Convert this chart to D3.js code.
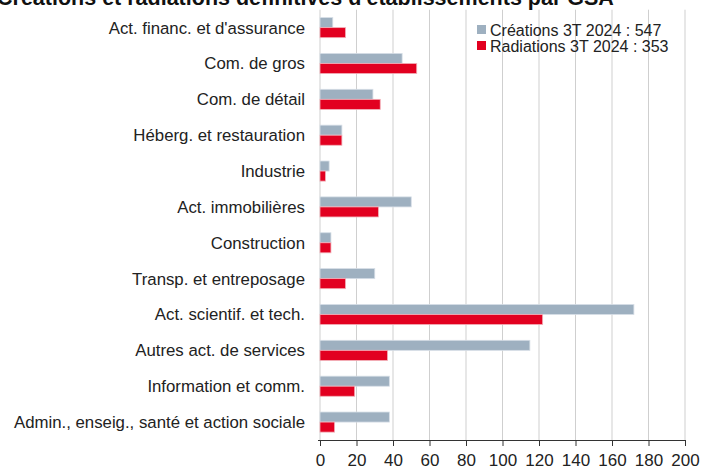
<!DOCTYPE html>
<html><head><meta charset="utf-8">
<script src="https://cdn.jsdelivr.net/npm/d3@7"></script>
<style>body{margin:0;background:#fff}svg{display:block}</style>
</head><body>
<script>
const categories = ["Act. financ. et d'assurance","Com. de gros","Com. de détail","Héberg. et restauration","Industrie","Act. immobilières","Construction","Transp. et entreposage","Act. scientif. et tech.","Autres act. de services","Information et comm.","Admin., enseig., santé et action sociale"];
const creations = [7,45,29,12,5,50,6,30,172,115,38,38];
const radiations = [14,53,33,12,3,32,6,14,122,37,19,8];
const seriesNames = ["Créations 3T 2024 : 547","Radiations 3T 2024 : 353"];
const xTicks = [0,20,40,60,80,100,120,140,160,180,200];
const title = "Créations et radiations définitives d'établissements par GSA";

const W=702,H=470, L=320, R=685, T=9.7, B=440;
const font = "'Liberation Sans', Arial, Helvetica, sans-serif";
const svg = d3.select("body").append("svg").attr("width",W).attr("height",H);
const x = d3.scaleLinear().domain([0,200]).range([L,R]);
const y = d3.scaleBand().domain(categories).range([T,B]).paddingInner(0.44).paddingOuter(0.22);
const colors = ["#9eb0c0","#e20020"];

// gridlines
svg.append("g").selectAll("line").data(xTicks).join("line")
  .attr("x1",d=>x(d)).attr("x2",d=>x(d)).attr("y1",T).attr("y2",B)
  .attr("stroke","#cfcfcf").attr("stroke-width",1);

// bars
const bh = y.bandwidth()/2;
[creations,radiations].forEach((s,i)=>{
  svg.append("g").selectAll("rect").data(s).join("rect")
    .attr("x",x(0)).attr("y",(d,j)=>y(categories[j])+i*bh)
    .attr("width",d=>x(d)-x(0)).attr("height",bh)
    .attr("fill",colors[i]).attr("stroke", i? "#f2b0b8":"#d6dee6").attr("stroke-width",0.8);
});

// x axis
const ax = svg.append("g").attr("transform",`translate(0,${B})`)
  .call(d3.axisBottom(x).tickValues(xTicks).tickSize(6).tickPadding(8).tickFormat(d3.format("d")));
ax.select(".domain").attr("stroke","#333").attr("d",`M${L-2},0.5H${R}`);
ax.selectAll(".tick line").attr("stroke","#333");
ax.selectAll("text").attr("font-family",font).attr("font-size",17).attr("fill","#222");

// category labels
svg.append("g").selectAll("text").data(categories).join("text")
  .attr("x",305).attr("y",d=>y(d)+y.bandwidth()/2).attr("dy","0.35em")
  .attr("text-anchor","end").attr("font-family",font).attr("font-size",16.8).attr("fill","#222")
  .text(d=>d);

// legend
const lg = svg.append("g");
seriesNames.forEach((n,i)=>{
  lg.append("rect").attr("x",477).attr("y",25+i*16).attr("width",9).attr("height",9).attr("fill",colors[i]);
  lg.append("text").attr("x",490).attr("y",35.5+i*16).attr("font-family",font).attr("font-size",16).attr("fill","#222").text(n);
});

// title (clipped at top, as in the reference)
svg.append("text").attr("x",-3).attr("y",5).attr("font-family",font).attr("font-weight","bold")
  .attr("font-size",21.5).attr("fill","#111").text(title);
</script>
</body></html>
